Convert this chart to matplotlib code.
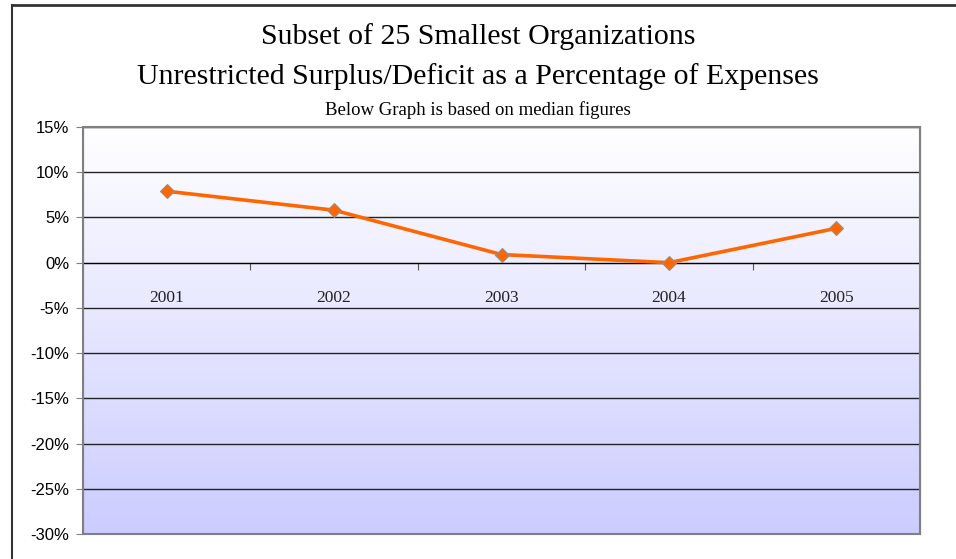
import numpy as np
import matplotlib
matplotlib.use("Agg")
from matplotlib import pyplot as plt
from matplotlib.patches import Rectangle
from matplotlib.lines import Line2D
from matplotlib.ticker import FuncFormatter

years = ['2001', '2002', '2003', '2004', '2005']
pct = [7.9, 5.8, 0.9, 0.0, 3.8]
y_ticks = [15, 10, 5, 0, -5, -10, -15, -20, -25, -30]

title1 = 'Subset of 25 Smallest Organizations'
title2 = 'Unrestricted Surplus/Deficit as a Percentage of Expenses'
subtitle = 'Below Graph is based on median figures'

serif = ['Liberation Serif', 'DejaVu Serif']
sans = ['Liberation Sans', 'DejaVu Sans']

fig = plt.figure(figsize=(9.56, 5.59), dpi=100)
ax = fig.add_axes([83 / 956, 25 / 559, 837 / 956, 407 / 559])

x = np.arange(len(years))
ax.set_xlim(-0.5, len(years) - 0.5)
ax.set_ylim(-30, 15)

# gradient background, white on top to lavender at the bottom
top = np.array([1.0, 1.0, 1.0])
bot = np.array([0xcc, 0xcc, 0xff]) / 255
t = np.linspace(0, 1, 256)[:, None]
grad = top * (1 - t[:, :, None]) + bot * t[:, :, None]
ax.imshow(grad, extent=[0, 1, 0, 1], transform=ax.transAxes, aspect='auto', zorder=0)

ax.set_axisbelow(True)
ax.yaxis.grid(True, color='#222222', lw=1)
ax.set_yticks(y_ticks)
ax.yaxis.set_major_formatter(FuncFormatter(lambda v, p: f'{v:.0f}%'))
ax.tick_params(axis='y', length=5, color='#808080', labelsize=12, pad=5)
for lab in ax.get_yticklabels():
    lab.set_family(sans)

# x axis crossing at zero, ticks between categories
for s in ['top', 'right', 'left']:
    ax.spines[s].set_color('#808080')
ax.spines['bottom'].set_position(('data', 0))
ax.spines['bottom'].set_color('black')
ax.add_patch(Rectangle((0, 0), 1, 1, transform=ax.transAxes, fill=False,
                       edgecolor='#808080', lw=1.5, clip_on=False, zorder=3))
ax.set_xticks(x[:-1] + 0.5)
ax.set_xticklabels([])
ax.tick_params(axis='x', which='major', direction='out', length=5, color='#555555')
ax.set_xticks(x, minor=True)
ax.set_xticklabels(years, minor=True, family=serif, fontsize=12.5, color='#222222')
ax.tick_params(axis='x', which='minor', length=0, pad=20)

ax.plot(x, pct, color='#ff6600', lw=2.6, marker='D', markersize=7,
        markerfacecolor='#ff6600', markeredgecolor='#909090', markeredgewidth=0.8,
        zorder=4, clip_on=False)

fig.text(0.5, 1 - 37 / 559, title1, ha='center', va='center', family=serif, fontsize=21.5)
fig.text(0.5, 1 - 77 / 559, title2, ha='center', va='center', family=serif, fontsize=21.5)
fig.text(0.5, 1 - 110 / 559, subtitle, ha='center', va='center', family=serif, fontsize=13.5)

# outer chart frame (top and left edges visible)
fig.add_artist(Line2D([12 / 956, 1], [1 - 5 / 559, 1 - 5 / 559], transform=fig.transFigure,
                      color='#333333', lw=2))
fig.add_artist(Line2D([12 / 956, 12 / 956], [0, 1 - 5 / 559], transform=fig.transFigure,
                      color='#333333', lw=1.5))

fig.savefig('out.png', dpi=100)
